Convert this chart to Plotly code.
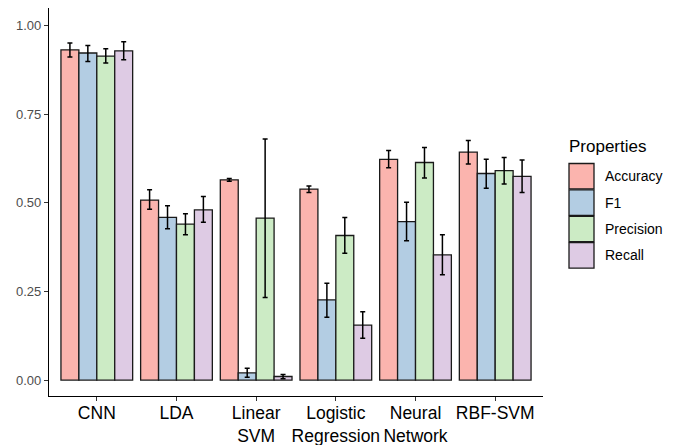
import plotly.graph_objects as go

models = ["CNN", "LDA", "Linear<br>SVM", "Logistic<br>Regression", "Neural<br>Network", "RBF-SVM"]
properties = ["Accuracy", "F1", "Precision", "Recall"]
colors = ["#FBB4AE", "#B3CDE3", "#CCEBC5", "#DECBE4"]

accuracy = [0.932, 0.508, 0.565, 0.539, 0.623, 0.643]
accuracy_hi = [0.951, 0.537, 0.569, 0.548, 0.648, 0.676]
accuracy_lo = [0.912, 0.482, 0.561, 0.529, 0.599, 0.610]

f1 = [0.923, 0.459, 0.020, 0.226, 0.447, 0.583]
f1_hi = [0.944, 0.492, 0.033, 0.273, 0.502, 0.623]
f1_lo = [0.899, 0.427, 0.008, 0.177, 0.393, 0.541]

precision = [0.914, 0.440, 0.457, 0.408, 0.614, 0.591]
precision_hi = [0.935, 0.469, 0.680, 0.459, 0.656, 0.628]
precision_lo = [0.895, 0.410, 0.233, 0.358, 0.570, 0.553]

recall = [0.929, 0.480, 0.010, 0.155, 0.353, 0.575]
recall_hi = [0.955, 0.518, 0.016, 0.193, 0.410, 0.621]
recall_lo = [0.904, 0.445, 0.004, 0.118, 0.297, 0.529]

series = [
    (accuracy, accuracy_hi, accuracy_lo),
    (f1, f1_hi, f1_lo),
    (precision, precision_hi, precision_lo),
    (recall, recall_hi, recall_lo),
]

fig = go.Figure()
for name, color, (v, hi, lo) in zip(properties, colors, series):
    fig.add_trace(go.Bar(
        x=models, y=v, name=name,
        marker=dict(color=color, line=dict(color="#1a1a1a", width=1.3)),
        error_y=dict(type="data", symmetric=False,
                     array=[h - a for h, a in zip(hi, v)],
                     arrayminus=[a - l for a, l in zip(v, lo)],
                     color="black", thickness=1.5, width=2.5),
        showlegend=False,
    ))

# Manual legend (ggplot-style keys)
L, PW, T, PH = 49, 494, 8, 388
def px(x):
    return (x - L) / PW
def py(y):
    return (T + PH - y) / PH

shapes = []
annotations = [dict(text="Properties", x=px(567), y=py(147), xref="paper", yref="paper",
                    xanchor="left", yanchor="middle", showarrow=False,
                    font=dict(size=17, color="black", family="Liberation Sans, Arial"))]
key_top = 163
key_h = 26.4
for i, (name, color) in enumerate(zip(properties, colors)):
    y0 = key_top + i * key_h
    shapes.append(dict(type="rect", xref="paper", yref="paper",
                       x0=px(569), x1=px(594), y0=py(y0 + key_h - 0.5), y1=py(y0 + 0.5),
                       fillcolor=color, line=dict(color="#1a1a1a", width=1.3)))
    annotations.append(dict(text=name, x=px(603), y=py(y0 + key_h / 2), xref="paper", yref="paper",
                            xanchor="left", yanchor="middle", showarrow=False,
                            font=dict(size=14, color="black", family="Liberation Sans, Arial")))

fig.update_layout(
    width=680, height=445,
    margin=dict(l=L, r=680 - L - PW, t=T, b=445 - T - PH),
    plot_bgcolor="white", paper_bgcolor="white",
    barmode="group", bargap=0.1, bargroupgap=0,
    font=dict(family="Liberation Sans, Arial", color="black"),
    shapes=shapes, annotations=annotations,
)
fig.update_xaxes(
    range=[-0.6, 5.6], showline=True, linecolor="black", linewidth=1.3,
    ticks="outside", ticklen=4, tickcolor="#333333", showgrid=False, tickangle=0,
    tickfont=dict(size=17.5, color="black"), automargin=False, ticklabelstandoff=-3,
)
fig.update_yaxes(
    range=[-0.045, 1.05], showline=True, linecolor="black", linewidth=1.3,
    ticks="outside", ticklen=4, tickcolor="#333333", showgrid=False, zeroline=False,
    tickvals=[0, 0.25, 0.5, 0.75, 1.0], ticktext=["0.00", "0.25", "0.50", "0.75", "1.00"],
    tickfont=dict(size=13, color="#4d4d4d"), automargin=False,
)

fig.write_html("out.html")
